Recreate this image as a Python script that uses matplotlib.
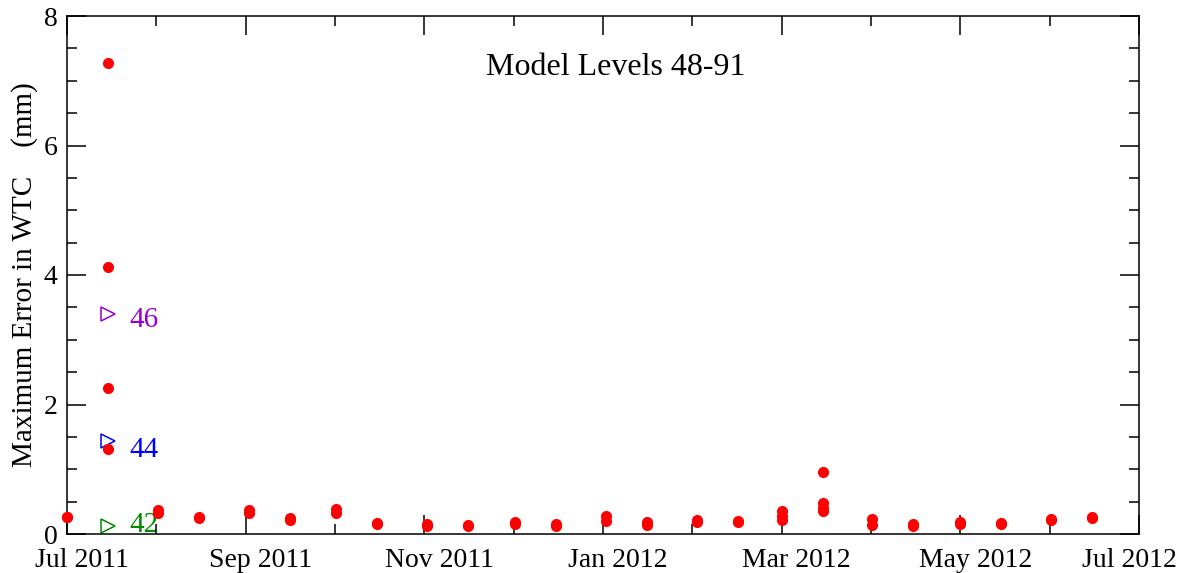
#libs
import matplotlib
matplotlib.use('Agg')
import matplotlib.pyplot as plt
import matplotlib.dates as mdates
import matplotlib.transforms as mtrans
import numpy as np
import pandas as pd

# data: (date, max WTC error in mm)
dates = ['2011-07-01', '2011-07-01',
         '2011-07-15', '2011-07-15', '2011-07-15', '2011-07-15',
         '2011-08-01', '2011-08-01', '2011-08-15', '2011-08-15',
         '2011-09-01', '2011-09-01', '2011-09-15', '2011-09-15',
         '2011-10-01', '2011-10-01', '2011-10-15', '2011-10-15',
         '2011-11-01', '2011-11-01', '2011-11-15', '2011-11-15',
         '2011-12-01', '2011-12-01', '2011-12-15', '2011-12-15',
         '2012-01-01', '2012-01-01', '2012-01-15', '2012-01-15',
         '2012-02-01', '2012-02-01', '2012-02-15', '2012-02-15',
         '2012-03-01', '2012-03-01', '2012-03-01',
         '2012-03-15', '2012-03-15', '2012-03-15', '2012-03-15',
         '2012-04-01', '2012-04-01', '2012-04-15', '2012-04-15',
         '2012-05-01', '2012-05-01', '2012-05-15', '2012-05-15',
         '2012-06-01', '2012-06-01', '2012-06-15', '2012-06-15']
errors = [0.27, 0.26,
          7.27, 4.13, 2.25, 1.32,
          0.37, 0.33, 0.26, 0.24,
          0.37, 0.33, 0.24, 0.22,
          0.38, 0.32, 0.17, 0.15,
          0.15, 0.13, 0.14, 0.12,
          0.18, 0.16, 0.15, 0.13,
          0.28, 0.20, 0.19, 0.14,
          0.21, 0.18, 0.20, 0.18,
          0.36, 0.28, 0.22,
          0.96, 0.48, 0.40, 0.35,
          0.23, 0.14, 0.15, 0.13,
          0.18, 0.15, 0.17, 0.16,
          0.23, 0.21, 0.27, 0.25]

# reference levels shown as open triangles
levels = ['46', '44', '42']
level_dates = ['2011-07-15', '2011-07-15', '2011-07-15']
level_vals = [3.40, 1.43, 0.12]
level_text_y = [3.20, 1.19, 0.035]
level_colors = ['#9400d3', '#0000ff', '#008b00']

tick_labels = ['Jul 2011', 'Sep 2011', 'Nov 2011', 'Jan 2012',
               'Mar 2012', 'May 2012', 'Jul 2012']

plt.rcParams['font.family'] = ['Liberation Serif', 'DejaVu Serif']

x = mdates.date2num(pd.to_datetime(dates))
xl = mdates.date2num(pd.to_datetime(level_dates))
start = mdates.date2num(pd.Timestamp('2011-07-01'))
end = mdates.date2num(pd.Timestamp('2012-07-01'))

fig = plt.figure(figsize=(11.89, 5.73), dpi=100)
ax = fig.add_axes([67/1189, 39/573, 1072/1189, 518/573])

ax.plot(x, errors, 'o', color='#ff0000', ms=8, mew=0, clip_on=False, zorder=3)

for xv, yv, ty, lab, c in zip(xl, level_vals, level_text_y, levels, level_colors):
    ax.plot(xv, yv, '>', ms=10, mfc='none', mec=c, mew=1.1, zorder=2)
    ax.text(xv + 7.2, ty, lab, color=c, fontsize=21, va='baseline', ha='left', zorder=1)

ax.set_xlim(start, end)
ax.set_ylim(0, 8)

# evenly spaced ticks, two months apart
step = (end - start) / 6
ax.set_xticks(start + step * np.arange(7))
ax.set_xticklabels(tick_labels)
ax.set_xticks(start + step * (np.arange(6) + 0.5), minor=True)
ax.set_yticks(np.arange(0, 9, 2))
ax.set_yticks(np.arange(0, 8.01, 0.5), minor=True)

ax.tick_params(which='both', direction='in', top=True, right=True, width=1.1,
               labelsize=20, color='black')
ax.tick_params(which='major', length=14)
ax.tick_params(which='minor', length=7)
ax.tick_params(axis='x', pad=10)
ax.tick_params(axis='y', pad=7)

# shift date labels right like the original
for i, lab in enumerate(ax.get_xticklabels()):
    dx = 15 if i < 6 else -10
    lab.set_transform(lab.get_transform() + mtrans.ScaledTranslation(dx/100, 0, fig.dpi_scale_trans))

for s in ax.spines.values():
    s.set_linewidth(1.1)

ax.set_ylabel('Maximum Error in WTC    (mm)', fontsize=21)
ax.yaxis.set_label_coords(-0.027, 0.5)

ax.text(0.512, 0.886, 'Model Levels 48-91', transform=ax.transAxes,
        fontsize=23, ha='center', va='baseline')

fig.savefig('out.png', dpi=100)
